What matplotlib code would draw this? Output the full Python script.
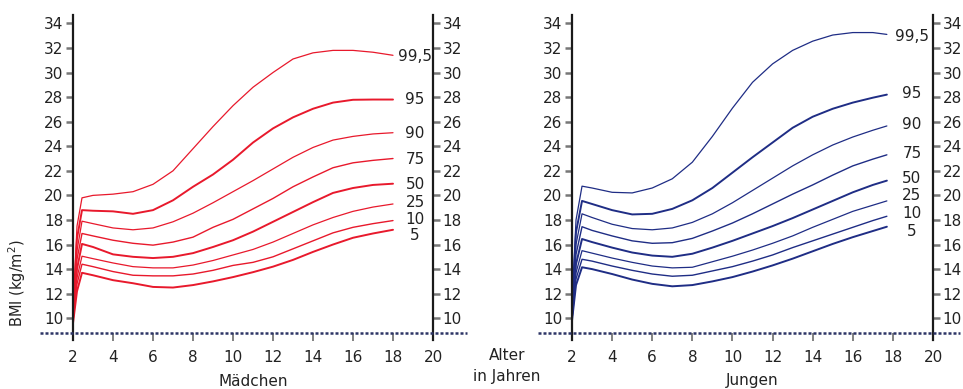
import matplotlib
matplotlib.use("Agg")
import matplotlib.pyplot as plt

plt.rcParams['font.family'] = ['DejaVu Sans']

percentiles = ["99,5", "95", "90", "75", "50", "25", "10", "5"]

ages_girls = [2.0, 2.2, 2.45, 3, 4, 5, 6, 7, 8, 9, 10, 11, 12, 13, 14, 15, 16, 17, 18]
girls_p995 = [10.5, 17.5, 19.8, 20.0, 20.1, 20.3, 20.9, 22.0, 23.8, 25.6, 27.3, 28.8, 30.0, 31.1, 31.6, 31.8, 31.8, 31.65, 31.4]
girls_p95 = [10.3, 16.5, 18.8, 18.75, 18.7, 18.5, 18.8, 19.6, 20.7, 21.7, 22.9, 24.3, 25.45, 26.35, 27.05, 27.55, 27.78, 27.8, 27.8]
girls_p90 = [10.2, 15.5, 17.9, 17.7, 17.35, 17.2, 17.35, 17.85, 18.55, 19.4, 20.3, 21.2, 22.15, 23.1, 23.9, 24.5, 24.8, 25.0, 25.1]
girls_p75 = [10.1, 14.8, 16.9, 16.7, 16.35, 16.1, 15.95, 16.2, 16.6, 17.4, 18.05, 18.9, 19.75, 20.7, 21.5, 22.25, 22.65, 22.85, 23.0]
girls_p50 = [10.0, 14.0, 16.05, 15.8, 15.2, 15.0, 14.9, 15.0, 15.3, 15.8, 16.35, 17.05, 17.85, 18.65, 19.45, 20.2, 20.6, 20.85, 20.95]
girls_p25 = [9.9, 13.3, 15.05, 14.85, 14.5, 14.2, 14.1, 14.1, 14.33, 14.7, 15.15, 15.6, 16.2, 16.9, 17.6, 18.2, 18.7, 19.05, 19.3]
girls_p10 = [9.8, 12.8, 14.4, 14.2, 13.8, 13.5, 13.45, 13.45, 13.6, 13.9, 14.3, 14.55, 15.0, 15.65, 16.3, 16.95, 17.4, 17.7, 17.95]
girls_p5 = [9.6, 12.2, 13.7, 13.5, 13.1, 12.85, 12.55, 12.5, 12.7, 13.0, 13.35, 13.75, 14.2, 14.75, 15.4, 16.0, 16.55, 16.9, 17.2]

ages_boys = [2.0, 2.2, 2.5, 3, 4, 5, 6, 7, 8, 9, 10, 11, 12, 13, 14, 15, 16, 17, 17.7]
boys_p995 = [11.0, 18.0, 20.75, 20.6, 20.25, 20.2, 20.6, 21.35, 22.7, 24.8, 27.1, 29.2, 30.7, 31.8, 32.55, 33.05, 33.25, 33.25, 33.1]
boys_p95 = [10.8, 17.0, 19.55, 19.3, 18.8, 18.45, 18.5, 18.9, 19.6, 20.6, 21.85, 23.1, 24.3, 25.5, 26.4, 27.05, 27.55, 27.95, 28.2]
boys_p90 = [10.6, 16.0, 18.5, 18.2, 17.65, 17.3, 17.2, 17.35, 17.8, 18.5, 19.4, 20.4, 21.4, 22.4, 23.3, 24.1, 24.75, 25.3, 25.65]
boys_p75 = [10.4, 15.2, 17.45, 17.15, 16.7, 16.3, 16.1, 16.15, 16.5, 17.1, 17.75, 18.5, 19.3, 20.1, 20.85, 21.65, 22.4, 22.95, 23.3]
boys_p50 = [10.2, 14.4, 16.45, 16.2, 15.75, 15.35, 15.1, 15.0, 15.25, 15.75, 16.3, 16.9, 17.5, 18.15, 18.85, 19.55, 20.25, 20.85, 21.2]
boys_p25 = [10.0, 13.7, 15.5, 15.3, 14.9, 14.55, 14.25, 14.1, 14.15, 14.6, 15.05, 15.55, 16.1, 16.7, 17.4, 18.05, 18.7, 19.2, 19.55]
boys_p10 = [9.9, 13.2, 14.8, 14.65, 14.25, 13.9, 13.6, 13.42, 13.5, 13.85, 14.2, 14.65, 15.15, 15.75, 16.3, 16.85, 17.4, 17.95, 18.3]
boys_p5 = [9.8, 12.7, 14.15, 14.0, 13.6, 13.15, 12.8, 12.6, 12.7, 13.0, 13.35, 13.8, 14.3, 14.85, 15.45, 16.05, 16.6, 17.1, 17.45]

girls_label_y = [31.28, 27.82, 25.05, 22.93, 20.9, 19.4, 18.05, 16.77]
boys_label_y = [32.91, 28.3, 25.73, 23.37, 21.39, 20.03, 18.54, 17.04]

y_ticks = [10, 12, 14, 16, 18, 20, 22, 24, 26, 28, 30, 32, 34]
x_ticks = [2, 4, 6, 8, 10, 12, 14, 16, 18, 20]

girls_series = [girls_p995, girls_p95, girls_p90, girls_p75, girls_p50, girls_p25, girls_p10, girls_p5]
boys_series = [boys_p995, boys_p95, boys_p90, boys_p75, boys_p50, boys_p25, boys_p10, boys_p5]
widths = [0.9, 1.4, 0.9, 1.0, 1.4, 0.9, 1.0, 1.4]

W, H = 963, 389
fig = plt.figure(figsize=(W / 100, H / 100), dpi=100)

TXT = '#222222'
AX = '#1a1a1a'
TICK = '#777777'


def make_panel(left_px, right_px, ages, series, color, label_x, label_y, dot_l, dot_r, title):
    ax = fig.add_axes([left_px / W, (H - 333) / H, (right_px - left_px) / W, (333 - 15) / H])
    ax.set_xlim(2, 20)
    ax.set_ylim(8.8, 34.68)
    for s in ax.spines.values():
        s.set_visible(False)
    for vals, lw in zip(series, widths):
        ax.plot(ages, vals, color=color, lw=lw, solid_capstyle='round', solid_joinstyle='round')
    for lab, ly in zip(percentiles, label_y):
        ax.text(label_x, ly, lab, ha='center', va='center', fontsize=11, color=TXT)
    # vertical axes
    for xv in (2, 20):
        ax.plot([xv, xv], [8.25, 34.68], color=AX, lw=1.6, clip_on=False, zorder=5)
    # dotted baseline
    ax.plot([dot_l, dot_r], [0, 0], transform=ax.transAxes, color='#2d3566',
            lw=1.8, ls=(0, (1.2, 0.8)), clip_on=False, zorder=6)
    ax.set_xticks(x_ticks)
    ax.set_xticklabels([str(v) for v in x_ticks])
    ax.tick_params(axis='x', direction='out', length=6, width=1.3, color=TICK,
                   labelsize=11, labelcolor=TXT, pad=6)
    ax.set_yticks(y_ticks)
    ax.set_yticklabels([str(v) for v in y_ticks])
    ax.tick_params(axis='y', direction='out', length=5, width=1.8, color=TICK,
                   labelsize=11, labelcolor=TXT, pad=2, left=True, right=True,
                   labelleft=True, labelright=True)
    fig.text(((left_px + right_px) / 2) / W, 1 - 381 / H, title, ha='center', va='center',
             fontsize=11, color=TXT)
    return ax


make_panel(73, 433, ages_girls, girls_series, '#e8192c', 19.1, girls_label_y, -0.0917, 1.094, 'Mädchen')
make_panel(572, 933, ages_boys, boys_series, '#1f2d85', 18.95, boys_label_y, -0.094, 1.075, 'Jungen')

fig.text(17 / W, 1 - 283 / H, 'BMI (kg/m$^2$)', rotation=90, ha='center', va='center',
         fontsize=10.5, color=TXT)
fig.text(507 / W, 1 - 356 / H, 'Alter', ha='center', va='center', fontsize=11, color=TXT)
fig.text(507 / W, 1 - 377 / H, 'in Jahren', ha='center', va='center', fontsize=11, color=TXT)

fig.savefig('out.png', dpi=100)
